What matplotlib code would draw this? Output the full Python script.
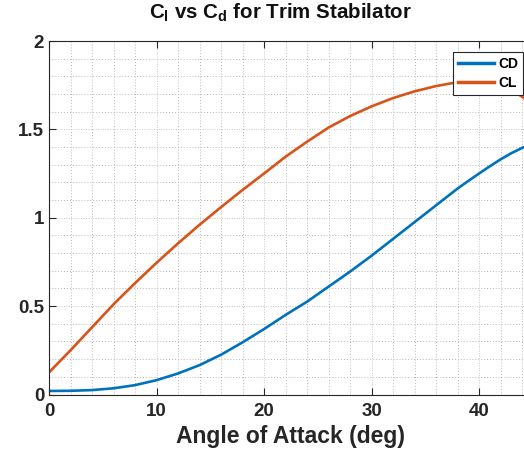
import matplotlib
matplotlib.use("Agg")
import matplotlib.pyplot as plt
from matplotlib.ticker import MultipleLocator

plt.rcParams['font.family'] = ['Liberation Sans', 'DejaVu Sans']
plt.rcParams['mathtext.fontset'] = 'custom'
plt.rcParams['mathtext.rm'] = 'Liberation Sans'
plt.rcParams['mathtext.bf'] = 'Liberation Sans:bold'
plt.rcParams['mathtext.it'] = 'Liberation Sans:italic'

angle = [0, 2, 4, 6, 8, 10, 12, 14, 16, 18, 20, 22, 24, 26, 28, 30, 32,
         34, 36, 38, 39, 40, 41, 42, 43, 44, 45]
cd = [0.020, 0.021, 0.025, 0.035, 0.053, 0.081, 0.119, 0.166, 0.225, 0.295,
      0.370, 0.450, 0.525, 0.610, 0.695, 0.785, 0.880, 0.975, 1.070, 1.165,
      1.208, 1.250, 1.291, 1.330, 1.365, 1.395, 1.420]
cl = [0.125, 0.250, 0.380, 0.510, 0.630, 0.745, 0.855, 0.960, 1.060, 1.157,
      1.250, 1.345, 1.430, 1.510, 1.575, 1.630, 1.677, 1.715, 1.745, 1.767,
      1.774, 1.776, 1.770, 1.755, 1.725, 1.685, 1.640]

W, H = 524, 468
fig = plt.figure(figsize=(W / 100, H / 100), dpi=100)
x0, y0, y1 = 49, 394.5, 41
pxdeg = 10.75
xmax = 45
ax = fig.add_axes([x0 / W, (H - y0) / H, xmax * pxdeg / W, (y0 - y1) / H])

ax.plot(angle, cd, color='#0072BD', lw=1.9, label='CD')
ax.plot(angle, cl, color='#D95319', lw=1.9, label='CL')

ax.set_xlim(0, xmax)
ax.set_ylim(0, 2)
ax.xaxis.set_major_locator(MultipleLocator(10))
ax.xaxis.set_minor_locator(MultipleLocator(2))
ax.yaxis.set_major_locator(MultipleLocator(0.5))
ax.yaxis.set_minor_locator(MultipleLocator(0.1))
ax.set_yticks([0, 0.5, 1, 1.5, 2])
ax.set_yticklabels(['0', '0.5', '1', '1.5', '2'])

ax.grid(which='major', color='#c8c8c8', lw=0.7, ls=(0, (1, 1.5)))
ax.grid(which='minor', color='#b8b8b8', lw=0.7, ls=(0, (1, 2)))
ax.set_axisbelow(True)

for s in ax.spines.values():
    s.set_color('#262626')
    s.set_linewidth(0.8)
ax.tick_params(which='major', direction='in', length=5, width=0.8,
               top=True, right=True, colors='#262626', labelsize=13.5)
ax.tick_params(which='minor', length=0)
for lab in ax.get_xticklabels() + ax.get_yticklabels():
    lab.set_fontweight('bold')
ax.tick_params(axis='x', pad=6)

ax.set_xlabel('Angle of Attack (deg)', fontsize=16.5, fontweight='bold',
              color='#262626', labelpad=4)
fig.text(281 / W, 1 - 13 / H,
         r'$\mathbf{C_l}$ vs $\mathbf{C_d}$ for Trim Stabilator',
         ha='center', va='center', fontsize=14.8, fontweight='bold',
         color='#111111')

leg = ax.legend(loc='upper left',
                bbox_to_anchor=((453 - x0) / (xmax * pxdeg), (y0 - 52) / (y0 - y1)),
                prop={'weight': 'bold', 'size': 10},
                frameon=True, fancybox=False, handlelength=2.6,
                borderpad=0.35, labelspacing=0.35, handletextpad=0.3,
                borderaxespad=0, framealpha=1)
leg.get_frame().set_edgecolor('#262626')
leg.get_frame().set_linewidth(0.8)
for ln in leg.get_lines():
    ln.set_linewidth(2.5)

fig.savefig('out.png', dpi=100)
